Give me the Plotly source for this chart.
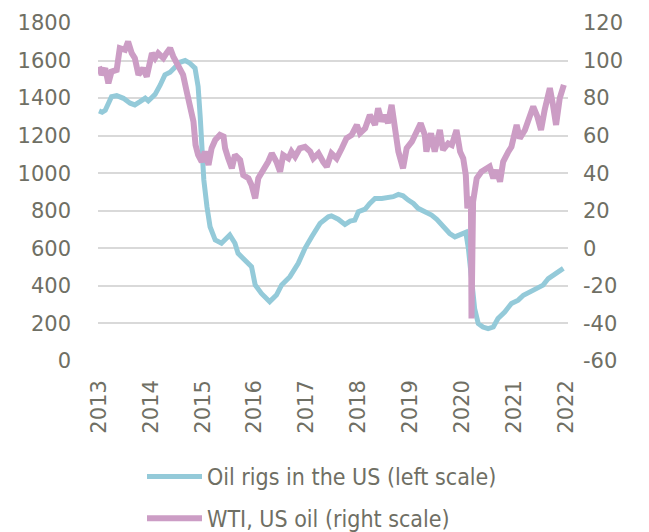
import plotly.graph_objects as go

# Oil rigs in the US (left scale) - decimal year, count
rig_x = [2013.00, 2013.06, 2013.12, 2013.20, 2013.24, 2013.34, 2013.47, 2013.60, 2013.69,
         2013.79, 2013.89, 2013.95, 2014.08, 2014.18, 2014.27, 2014.37, 2014.46, 2014.56,
         2014.66, 2014.75, 2014.85, 2014.91, 2014.95, 2014.98, 2015.02, 2015.08, 2015.14,
         2015.24, 2015.36, 2015.52, 2015.62, 2015.68, 2015.85, 2015.94, 2016.01, 2016.13,
         2016.29, 2016.42, 2016.52, 2016.68, 2016.84, 2016.97, 2017.10, 2017.26, 2017.42,
         2017.48, 2017.61, 2017.74, 2017.84, 2017.93, 2018.00, 2018.13, 2018.22, 2018.32,
         2018.45, 2018.57, 2018.67, 2018.77, 2018.86, 2018.96, 2019.06, 2019.15, 2019.28,
         2019.41, 2019.51, 2019.60, 2019.67, 2019.76, 2019.86, 2019.96, 2020.07, 2020.12,
         2020.18, 2020.24, 2020.31, 2020.40, 2020.50, 2020.60, 2020.69, 2020.82, 2020.95,
         2021.08, 2021.18, 2021.30, 2021.43, 2021.56, 2021.66, 2021.79, 2021.95]
rig_y = [1332, 1325, 1335, 1390, 1408, 1413, 1399, 1373, 1364,
         1381, 1400, 1385, 1420, 1470, 1524, 1538, 1559, 1591,
         1600, 1586, 1560, 1461, 1301, 1124, 964, 822, 715,
         644, 627, 671, 627, 573, 529, 502, 405, 360,
         316, 351, 405, 449, 520, 600, 662, 733, 768,
         773, 755, 727, 745, 750, 795, 809, 839, 866,
         866, 869, 875, 887, 880, 857, 839, 813, 795,
         777, 755, 724, 706, 679, 661, 674, 685, 599,
         421, 279, 199, 181, 172, 181, 226, 261, 306,
         324, 350, 368, 386, 404, 439, 466, 493]

# WTI, US oil (right scale) - decimal year, USD
wti_x = [2013.00, 2013.05, 2013.12, 2013.18, 2013.24, 2013.34, 2013.40, 2013.50, 2013.56,
         2013.63, 2013.69, 2013.76, 2013.85, 2013.92, 2014.02, 2014.08, 2014.14, 2014.24,
         2014.30, 2014.37, 2014.43, 2014.53, 2014.62, 2014.69, 2014.75, 2014.82, 2014.86,
         2014.91, 2014.98, 2015.04, 2015.11, 2015.17, 2015.24, 2015.33, 2015.40, 2015.43,
         2015.49, 2015.56, 2015.62, 2015.72, 2015.78, 2015.88, 2015.94, 2016.01, 2016.07,
         2016.17, 2016.26, 2016.33, 2016.42, 2016.49, 2016.55, 2016.65, 2016.71, 2016.78,
         2016.87, 2016.97, 2017.07, 2017.13, 2017.23, 2017.32, 2017.39, 2017.48, 2017.58,
         2017.68, 2017.77, 2017.87, 2017.97, 2018.03, 2018.13, 2018.22, 2018.32, 2018.38,
         2018.45, 2018.51, 2018.57, 2018.64, 2018.70, 2018.77, 2018.86, 2018.93, 2019.03,
         2019.12, 2019.20, 2019.28, 2019.31, 2019.40, 2019.47, 2019.57, 2019.63, 2019.73,
         2019.80, 2019.89, 2019.96, 2020.02, 2020.07, 2020.10, 2020.15, 2020.17, 2020.18,
         2020.21, 2020.28, 2020.37, 2020.45, 2020.53, 2020.60, 2020.66, 2020.73, 2020.79,
         2020.89, 2020.95, 2021.05, 2021.11, 2021.21, 2021.29, 2021.37, 2021.45, 2021.52,
         2021.59, 2021.69, 2021.75, 2021.81, 2021.88, 2021.96]
wti_y = [96.8, 92.4, 95.9, 87.9, 94.1, 95.0, 106.6, 105.7, 110.1,
         103.9, 101.3, 92.4, 95.9, 91.4, 103.9, 101.3, 103.9, 101.3,
         103.9, 106.6, 102.2, 96.8, 92.4, 83.5, 76.4, 67.5, 55.0,
         49.7, 46.1, 51.5, 44.4, 53.3, 57.7, 60.4, 59.5, 53.3,
         47.9, 42.6, 49.7, 47.0, 39.0, 37.3, 33.7, 26.6, 37.3,
         41.7, 46.1, 50.6, 46.1, 40.8, 49.7, 47.9, 51.5, 48.8,
         53.3, 54.1, 51.5, 47.9, 50.6, 46.1, 43.5, 50.6, 47.9,
         53.3, 58.6, 60.4, 65.7, 61.3, 63.9, 71.0, 65.7, 74.6,
         67.5, 71.0, 66.6, 76.4, 63.9, 51.5, 42.6, 53.3, 56.8,
         62.2, 66.6, 60.4, 51.5, 61.3, 51.5, 63.0, 52.4, 55.9,
         55.0, 63.0, 51.5, 47.9, 39.0, 21.3, 27.5, 21.3, -37.4,
         24.8, 37.3, 40.8, 42.6, 43.5, 37.3, 41.7, 35.5, 46.1,
         51.5, 54.1, 65.7, 58.6, 63.0, 69.3, 75.5, 70.1, 63.0,
         73.7, 85.3, 76.4, 65.7, 79.9, 87.0]

years = [2013, 2014, 2015, 2016, 2017, 2018, 2019, 2020, 2021, 2022]
year_labels = ["2013", "2014", "2015", "2016", "2017", "2018", "2019", "2020", "2021", "2022"]
left_ticks = [0, 200, 400, 600, 800, 1000, 1200, 1400, 1600, 1800]
left_labels = ["0", "200", "400", "600", "800", "1000", "1200", "1400", "1600", "1800"]
right_ticks = [-60, -40, -20, 0, 20, 40, 60, 80, 100, 120]
right_labels = ["-60", "-40", "-20", "0", "20", "40", "60", "80", "100", "120"]

BLUE = "#94CAD9"
PINK = "#CC9DC5"
GREY = "#6F6F64"
TICKFONT = dict(family="DejaVu Sans", size=21, color=GREY)

fig = go.Figure()
fig.add_trace(go.Scatter(x=rig_x, y=rig_y, mode="lines", name="Oil rigs in the US (left scale)",
                         line=dict(color=BLUE, width=5), yaxis="y", legendgroup="a"))
fig.add_trace(go.Scatter(x=wti_x, y=wti_y, mode="lines", name="WTI, US oil (right scale)",
                         line=dict(color=PINK, width=6), yaxis="y2", legendgroup="b"))

fig.update_layout(
    width=649, height=532,
    margin=dict(l=98, r=81, t=23, b=171, autoexpand=False),
    paper_bgcolor="white", plot_bgcolor="white",
    showlegend=True,
    legend=dict(orientation="v", xref="container", yref="container",
                x=142 / 649, xanchor="left", y=1 - 455 / 532, yanchor="top",
                font=dict(family="DejaVu Sans Condensed", size=23, color=GREY),
                tracegroupgap=9, itemwidth=55, bgcolor="rgba(0,0,0,0)"),
    xaxis=dict(range=[2012.98, 2022.04], tickmode="array", tickvals=years, ticktext=year_labels,
               tickangle=-90, showgrid=False, zeroline=False, showline=False,
               ticks="", tickfont=TICKFONT, ticklabelstandoff=14, automargin=False),
    yaxis=dict(range=[0, 1800], tickmode="array", tickvals=left_ticks, ticktext=left_labels,
               showgrid=True, gridcolor="#D9D9D9", gridwidth=1.5, zeroline=False,
               showline=False, ticks="", tickfont=TICKFONT, ticklabelstandoff=26,
               automargin=False),
    yaxis2=dict(range=[-60, 120], tickmode="array", tickvals=right_ticks, ticktext=right_labels,
                overlaying="y", side="right", showgrid=False, zeroline=False, showline=False,
                ticks="", tickfont=TICKFONT, ticklabelstandoff=14, automargin=False),
)

fig.write_html("out.html", config={"displayModeBar": False},
               post_script="document.body.style.margin='0px';document.body.style.padding='0px';")
